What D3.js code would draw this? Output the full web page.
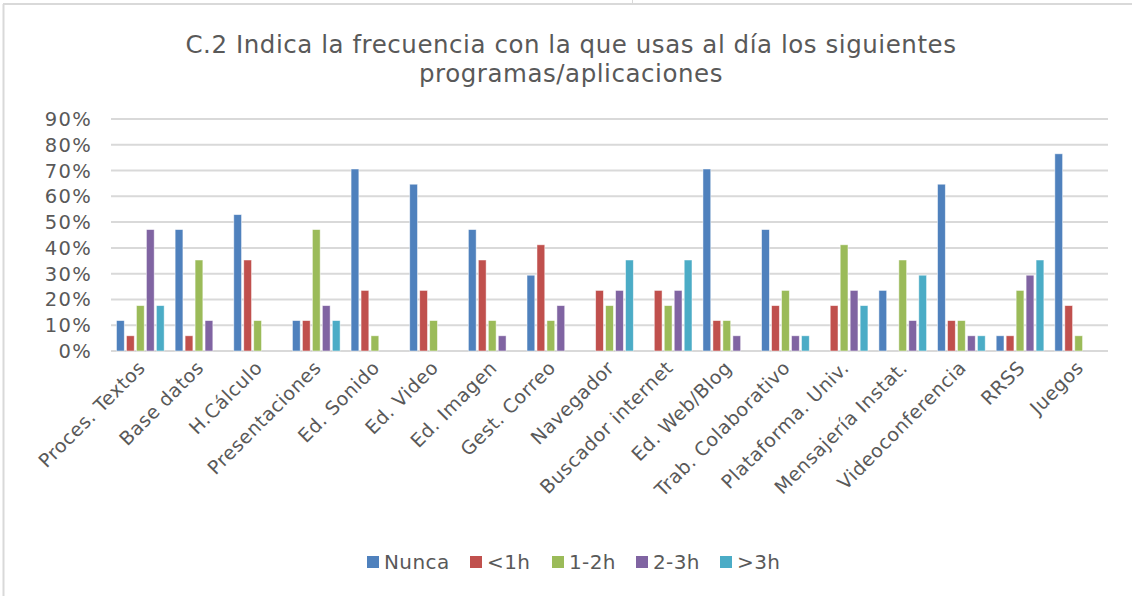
<!DOCTYPE html>
<html><head><meta charset="utf-8">
<script src="https://cdn.jsdelivr.net/npm/d3@7"></script>
<style>body{margin:0;background:#fff;} svg{display:block;font-family:"DejaVu Sans",Verdana,sans-serif;}</style>
</head><body>
<svg id="c" width="1132" height="596"></svg>
<script>
const categories = ["Proces. Textos","Base datos","H.Cálculo","Presentaciones","Ed. Sonido","Ed. Video","Ed. Imagen","Gest. Correo","Navegador","Buscador internet","Ed. Web/Blog","Trab. Colaborativo","Plataforma. Univ.","Mensajería Instat.","Videoconferencia","RRSS","Juegos"];
const seriesNames = ["Nunca","<1h","1-2h","2-3h",">3h"];
const nunca  = [11.8,47.1,52.9,11.8,70.6,64.7,47.1,29.4,0,0,70.6,47.1,0,23.5,64.7,5.9,76.5];
const menos1 = [5.9,5.9,35.3,11.8,23.5,23.5,35.3,41.2,23.5,23.5,11.8,17.6,17.6,0,11.8,5.9,17.6];
const h1_2   = [17.6,35.3,11.8,47.1,5.9,11.8,11.8,11.8,17.6,17.6,11.8,23.5,41.2,35.3,11.8,23.5,5.9];
const h2_3   = [47.1,11.8,0,17.6,0,0,5.9,17.6,23.5,23.5,5.9,5.9,23.5,11.8,5.9,29.4,0];
const mas3   = [17.6,0,0,11.8,0,0,0,0,35.3,35.3,0,5.9,17.6,29.4,5.9,35.3,0];
const yTicks = [0,10,20,30,40,50,60,70,80,90];
const colors = ["#4F81BD","#C0504D","#9BBB59","#8064A2","#4BACC6"];
const seriesValues = [nunca,menos1,h1_2,h2_3,mas3];

const svg = d3.select("#c");
const textColor = "#595959";
// frame
svg.append("line").attr("x1",3.5).attr("x2",3.5).attr("y1",4).attr("y2",596).attr("stroke","#d9d9d9").attr("stroke-width",2);
svg.append("line").attr("x1",3).attr("x2",1132).attr("y1",4).attr("y2",4).attr("stroke","#d9d9d9").attr("stroke-width",2);
svg.append("line").attr("x1",632.5).attr("x2",632.5).attr("y1",0).attr("y2",4).attr("stroke","#d9d9d9").attr("stroke-width",1);

// title
const title = svg.append("text").attr("text-anchor","middle").attr("fill",textColor)
  .attr("font-size",24.5).attr("letter-spacing",0.55);
title.append("tspan").attr("x",571).attr("y",53).text("C.2 Indica la frecuencia con la que usas al día los siguientes");
title.append("tspan").attr("x",571).attr("y",82).text("programas/aplicaciones");

const x0 = d3.scaleBand().domain(categories).range([111,1108]).paddingInner(0).paddingOuter(0);
const x1 = d3.scaleBand().domain(seriesNames).range([0,x0.bandwidth()]).paddingInner(0.22).paddingOuter(0.55);
const y = d3.scaleLinear().domain([0,90]).range([351,119]);

// gridlines
svg.append("g").selectAll("line").data(yTicks).join("line")
  .attr("x1",111).attr("x2",1108).attr("y1",d=>y(d)).attr("y2",d=>y(d))
  .attr("stroke","#d9d9d9").attr("stroke-width",2);

// y labels
svg.append("g").selectAll("text").data(yTicks).join("text")
  .attr("x",92).attr("y",d=>y(d)).attr("dy","0.36em").attr("text-anchor","end")
  .attr("fill",textColor).attr("font-size",19.5).attr("letter-spacing",1.3).text(d=>d+"%");

// bars
const data = [];
categories.forEach((c,i)=>seriesNames.forEach((s,j)=>{ if(seriesValues[j][i]>0) data.push({c,s,v:seriesValues[j][i],j}); }));
svg.append("g").selectAll("rect").data(data).join("rect")
  .attr("x",d=>x0(d.c)+x1(d.s)).attr("width",x1.bandwidth())
  .attr("y",d=>y(d.v)).attr("height",d=>y(0)-y(d.v))
  .attr("fill",d=>colors[d.j]).attr("stroke","#ffffff").attr("stroke-opacity",0.6).attr("stroke-width",0.8);

// x labels
svg.append("g").selectAll("text").data(categories).join("text")
  .attr("transform",d=>`translate(${x0(d)+x0.bandwidth()/2+6},${369}) rotate(-45)`)
  .attr("text-anchor","end").attr("fill",textColor).attr("font-size",19).attr("letter-spacing",0.5).text(d=>d);

// legend
const legendX = [367,470,552,636,720];
const lg = svg.append("g").selectAll("g").data(seriesNames).join("g")
  .attr("transform",(d,i)=>`translate(${legendX[i]},562)`);
lg.append("rect").attr("x",0).attr("y",-6).attr("width",12).attr("height",12).attr("fill",(d,i)=>colors[i]);
lg.append("text").attr("x",17).attr("y",0).attr("dy","0.36em").attr("fill",textColor)
  .attr("font-size",20).attr("letter-spacing",0.4).text(d=>d);
</script>
</body></html>
